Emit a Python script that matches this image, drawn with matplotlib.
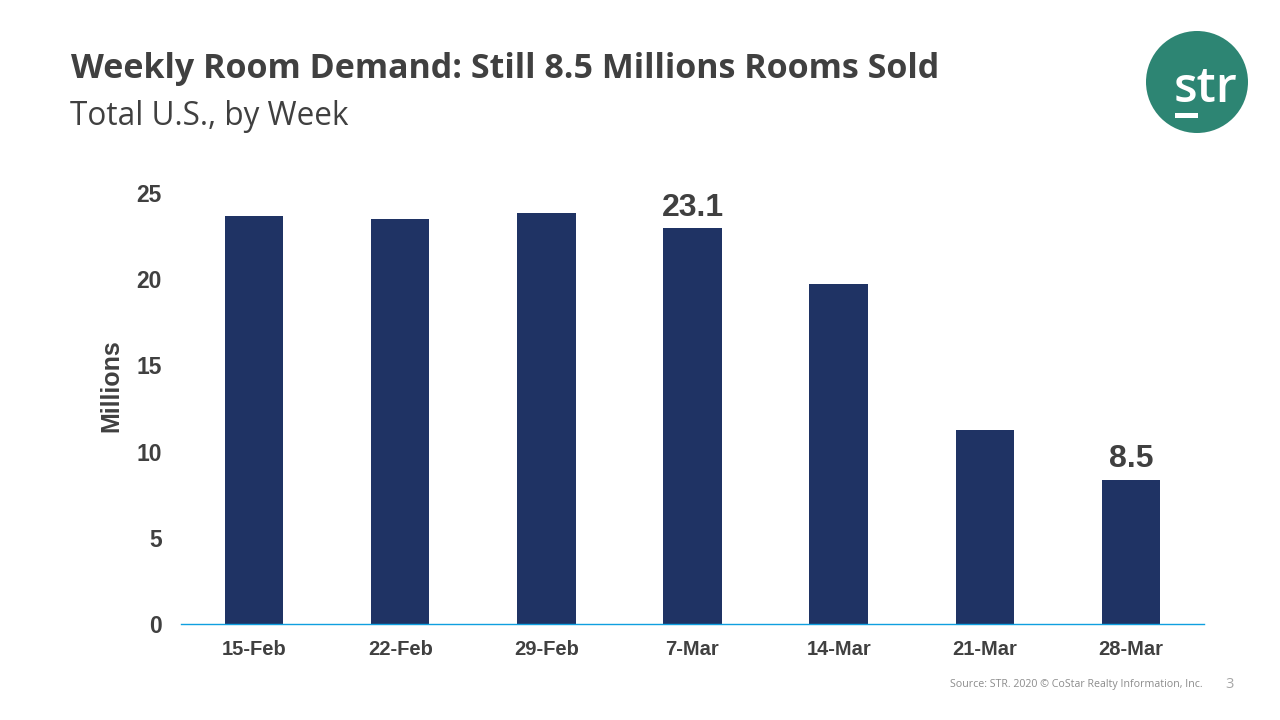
import matplotlib
matplotlib.use("Agg")
import matplotlib.pyplot as plt
from matplotlib.patches import Ellipse, Rectangle

W, H = 1280, 720

weeks = ["15-Feb", "22-Feb", "29-Feb", "7-Mar", "14-Mar", "21-Mar", "28-Mar"]
rooms = [23.65, 23.5, 23.85, 22.95, 19.75, 11.25, 8.35]
labelled = {3: "23.1", 6: "8.5"}
yticks = [0, 5, 10, 15, 20, 25]

NAVY = "#1F3364"
GREY = "#404040"
TEAL = "#2D8573"

fig = plt.figure(figsize=(W/100, H/100), dpi=100, facecolor="white")

# plot area in pixels of the slide
left, right, y0, y25 = 181, 1204, 624, 193
ax = fig.add_axes([left/W, 1-y0/H, (right-left)/W, (y0-y25)/H])
ax.bar(range(len(weeks)), rooms, width=0.4, color=NAVY)
ax.set_xlim(-0.5, 6.5)
ax.set_ylim(0, 25)
for s in ["top", "right", "left"]:
    ax.spines[s].set_visible(False)
ax.spines["bottom"].set_color("#0F9FE0")
ax.spines["bottom"].set_linewidth(1.0)
ax.patch.set_alpha(0)

ax.set_xticks(range(len(weeks)))
ax.set_xticklabels(weeks, family="Liberation Sans", fontweight="bold", fontsize=14.5, color=GREY)
ax.set_yticks(yticks)
ax.set_yticklabels(yticks, family="Liberation Sans", fontweight="bold", fontsize=16.5, color=GREY)
ax.tick_params(axis="both", length=0)
ax.tick_params(axis="x", pad=11.5)
ax.tick_params(axis="y", pad=14)
ax.set_ylabel("Millions", family="Liberation Sans", fontweight="bold", fontsize=18, color=GREY)
ax.yaxis.set_label_coords((111-left)/(right-left), (y0-386)/(y0-y25))
ax.yaxis.label.set_va("center")

for i, txt in labelled.items():
    ax.annotate(txt, (i, rooms[i]), xytext=(0, 4), textcoords="offset points", ha="center", va="bottom",
                family="Liberation Sans", fontweight="bold", fontsize=23, color=GREY)

# slide texts
fig.text(71/W, 1-68.5/H, "Weekly Room Demand: Still 8.5 Millions Rooms Sold", family="Open Sans",
         fontweight="bold", fontsize=24.5, color=GREY, va="center")
fig.text(70/W, 1-116.5/H, "Total U.S., by Week", family="Open Sans", fontsize=22.7, color=GREY, va="center")
fig.text(1203/W, 1-684/H, "Source: STR. 2020 © CoStar Realty Information, Inc.", family="Open Sans",
         fontsize=7.7, color="#8C8C8C", ha="right", va="center")
fig.text(1230/W, 1-685/H, "3", family="Open Sans", fontsize=10.5, color="#A6A6A6", ha="center", va="center")

# logo
logo = fig.add_axes([0, 0, 1, 1], zorder=5)
logo.set_xlim(0, W)
logo.set_ylim(H, 0)
logo.axis("off")
logo.add_patch(Ellipse((1197, 82), 102, 102, color=TEAL, lw=0))
logo.text(1205, 90, "str", family="Open Sans", fontweight="semibold", fontsize=35, color="white",
          ha="center", va="center")
logo.add_patch(Rectangle((1175, 113), 23, 5, color="white", lw=0))

fig.savefig("out.png", dpi=100, facecolor="white")
